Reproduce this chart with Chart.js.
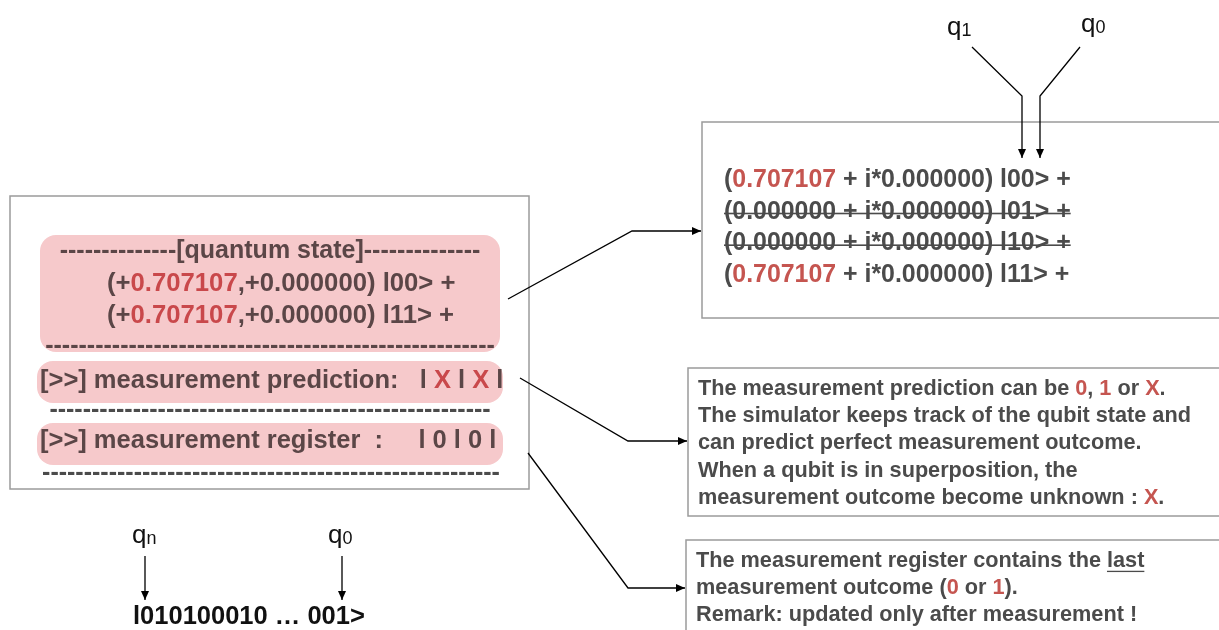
<!DOCTYPE html>
<html>
<head>
<meta charset="utf-8">
<script src="https://cdn.jsdelivr.net/npm/chart.js@4.4.1/dist/chart.umd.min.js"></script>
<style>
    html, body { margin: 0; padding: 0; background: #fff; }
    canvas { display: block; }
</style>
</head>
<body>
<canvas id="myChart" width="1219" height="630"></canvas>
<script>
// text content, segment = [text, colourIndex, underline]
const stateLines = [
    [['--------------[quantum state]--------------', 0]],
    [['(+', 0], ['0.707107', 1], [',+0.000000) l00> +', 0]],
    [['(+', 0], ['0.707107', 1], [',+0.000000) l11> +', 0]]
];
const dashLines = ['-'.repeat(54), '-'.repeat(53), '-'.repeat(55)];
const predictionRow = [['[>>] measurement prediction:   l ', 0], ['X', 1], [' l ', 0], ['X', 1], [' l', 0]];
const registerRow = [['[>>] measurement register  :     l 0 l 0 l', 0]];
const amplitudeLines = [
    [['(', 0], ['0.707107', 1], [' + i*0.000000) l00> +', 0]],
    [['(0.000000 + i*0.000000) l01> +', 0]],
    [['(0.000000 + i*0.000000) l10> +', 0]],
    [['(', 0], ['0.707107', 1], [' + i*0.000000) l11> +', 0]]
];
const struckLines = [false, true, true, false];
const predictionNote = [
    [['The measurement prediction can be ', 0], ['0', 1], [', ', 0], ['1', 1], [' or ', 0], ['X', 1], ['.', 0]],
    [['The simulator keeps track of the qubit state and', 0]],
    [['can predict perfect measurement outcome.', 0]],
    [['When a qubit is in superposition, the', 0]],
    [['measurement outcome become unknown : ', 0], ['X', 1], ['.', 0]]
];
const registerNote = [
    [['The measurement register contains the ', 0], ['last', 0, true]],
    [['measurement outcome (', 0], ['0', 1], [' or ', 0], ['1', 1], [').', 0]],
    [['Remark: updated only after measurement !', 0]]
];
const qubitLabels = [['q', '1'], ['q', '0'], ['q', 'n'], ['q', '0']];
const bitString = 'l010100010 \u2026 001>';

// diagram geometry in picture units
const frameBoxes = [[10, 196, 529, 489], [702, 122, 1240, 318], [688, 368, 1240, 516], [686, 540, 1240, 650]];
const pinkBoxes = [[40, 235, 500, 352], [37, 361, 503, 403], [37, 423, 503, 465]];
const arrowPaths = [
    [[508, 299], [632, 231], [701, 231]],
    [[520, 378], [628, 441], [687, 441]],
    [[528, 453], [628, 588], [685, 588]],
    [[972, 47], [1022, 96], [1022, 158]],
    [[1080, 47], [1040, 96], [1040, 158]],
    [[145, 556], [145, 600]],
    [[342, 556], [342, 600]]
];
const qubitLabelPos = [[947, 28], [1081, 25], [132, 536], [328, 536]];

const FONT = '"Liberation Sans", Arial, Helvetica, sans-serif';

function drawRich(ctx, x, y, segs, size, colours, opts) {
    opts = opts || {};
    ctx.font = 'bold ' + size + 'px ' + FONT;
    ctx.textBaseline = 'middle';
    let total = 0;
    segs.forEach(s => total += ctx.measureText(s[0]).width);
    let cx = opts.align === 'center' ? x - total / 2 : x;
    let start = cx;
    segs.forEach(s => {
        let w = ctx.measureText(s[0]).width;
        ctx.fillStyle = colours[s[1]];
        ctx.textAlign = 'left';
        ctx.fillText(s[0], cx, y);
        if (s[2]) {
            ctx.fillRect(cx, y + size * 0.45, w, 1.3);
        }
        cx += w;
    });
    if (opts.strike) {
        ctx.fillStyle = colours[0];
        ctx.fillRect(start, y + 1, total, 1.6);
    }
}

function roundRect(ctx, x, y, w, h, r) {
    ctx.beginPath();
    ctx.moveTo(x + r, y);
    ctx.arcTo(x + w, y, x + w, y + h, r);
    ctx.arcTo(x + w, y + h, x, y + h, r);
    ctx.arcTo(x, y + h, x, y, r);
    ctx.arcTo(x, y, x + w, y, r);
    ctx.closePath();
}

const diagramPlugin = {
    id: 'diagram',
    beforeDatasetsDraw(chart) {
        const ctx = chart.ctx;
        const sx = v => chart.scales.x.getPixelForValue(v);
        const sy = v => chart.scales.y.getPixelForValue(v);
        ctx.save();
        ctx.strokeStyle = '#9b9b9b';
        ctx.lineWidth = 1.5;
        frameBoxes.forEach(b => {
            ctx.strokeRect(sx(b[0]), sy(b[1]), sx(b[2]) - sx(b[0]), sy(b[3]) - sy(b[1]));
        });
        ctx.fillStyle = '#f6c9cb';
        pinkBoxes.forEach(b => {
            roundRect(ctx, sx(b[0]), sy(b[1]), sx(b[2]) - sx(b[0]), sy(b[3]) - sy(b[1]), 16);
            ctx.fill();
        });
        ctx.restore();
    },
    afterDatasetsDraw(chart) {
        const ctx = chart.ctx;
        const sx = v => chart.scales.x.getPixelForValue(v);
        const sy = v => chart.scales.y.getPixelForValue(v);
        ctx.save();

        // arrow heads at the end of every path
        ctx.fillStyle = '#000';
        chart.data.datasets.forEach((ds, i) => {
            const pts = chart.getDatasetMeta(i).data;
            const a = pts[pts.length - 2], b = pts[pts.length - 1];
            const ang = Math.atan2(b.y - a.y, b.x - a.x);
            ctx.beginPath();
            ctx.moveTo(b.x, b.y);
            ctx.lineTo(b.x - 9 * Math.cos(ang) + 4 * Math.sin(ang), b.y - 9 * Math.sin(ang) - 4 * Math.cos(ang));
            ctx.lineTo(b.x - 9 * Math.cos(ang) - 4 * Math.sin(ang), b.y - 9 * Math.sin(ang) + 4 * Math.cos(ang));
            ctx.closePath();
            ctx.fill();
        });

        const pinkInk = ['#5b4647', '#c9484b'];
        const ink = ['#4b4b4b', '#c55550'];

        drawRich(ctx, sx(270), sy(251), stateLines[0], 25, pinkInk, {align: 'center'});
        drawRich(ctx, sx(107), sy(284), stateLines[1], 25.7, pinkInk);
        drawRich(ctx, sx(107), sy(316), stateLines[2], 25.7, pinkInk);
        drawRich(ctx, sx(270), sy(346), [[dashLines[0], 0]], 25, pinkInk, {align: 'center'});
        drawRich(ctx, sx(40), sy(381), predictionRow, 25.5, pinkInk);
        drawRich(ctx, sx(270), sy(410), [[dashLines[1], 0]], 25, ink, {align: 'center'});
        drawRich(ctx, sx(40), sy(441), registerRow, 25.5, pinkInk);
        drawRich(ctx, sx(271), sy(473), [[dashLines[2], 0]], 25, ink, {align: 'center'});

        amplitudeLines.forEach((l, i) => {
            drawRich(ctx, sx(724), sy(180 + i * 31.7), l, 24.9, ink, {strike: struckLines[i]});
        });
        predictionNote.forEach((l, i) => {
            drawRich(ctx, sx(698), sy(389 + i * 27.2), l, 21.7, ink);
        });
        registerNote.forEach((l, i) => {
            drawRich(ctx, sx(696), sy(561 + i * 27), l, 21.7, ink);
        });

        // qubit labels with subscripts
        ctx.fillStyle = '#111';
        ctx.textBaseline = 'middle';
        ctx.textAlign = 'left';
        qubitLabels.forEach((q, i) => {
            const p = qubitLabelPos[i];
            ctx.font = '26px ' + FONT;
            ctx.fillText(q[0], sx(p[0]), sy(p[1]));
            const w = ctx.measureText(q[0]).width;
            ctx.font = '18px ' + FONT;
            ctx.fillText(q[1], sx(p[0]) + w, sy(p[1]) + 3);
        });

        ctx.font = 'bold 25.5px ' + FONT;
        ctx.fillText(bitString, sx(133), sy(617));
        ctx.restore();
    }
};

function chartInit() {
    let ctx = document.getElementById('myChart').getContext('2d');
    let datasets = arrowPaths.map(path => ({
        data: path.map(p => ({x: p[0], y: p[1]})),
        showLine: true,
        borderColor: '#000',
        borderWidth: 1.3,
        pointRadius: 0,
        fill: false
    }));
    new Chart(ctx, {
        type: 'scatter',
        data: {datasets: datasets},
        options: {
            responsive: false,
            animation: false,
            layout: {padding: 0},
            plugins: {legend: {display: false}, tooltip: {enabled: false}},
            scales: {
                x: {type: 'linear', min: 0, max: 1219, display: false},
                y: {type: 'linear', min: 0, max: 630, reverse: true, display: false}
            }
        },
        plugins: [diagramPlugin]
    });
}

chartInit();
</script>
</body>
</html>
